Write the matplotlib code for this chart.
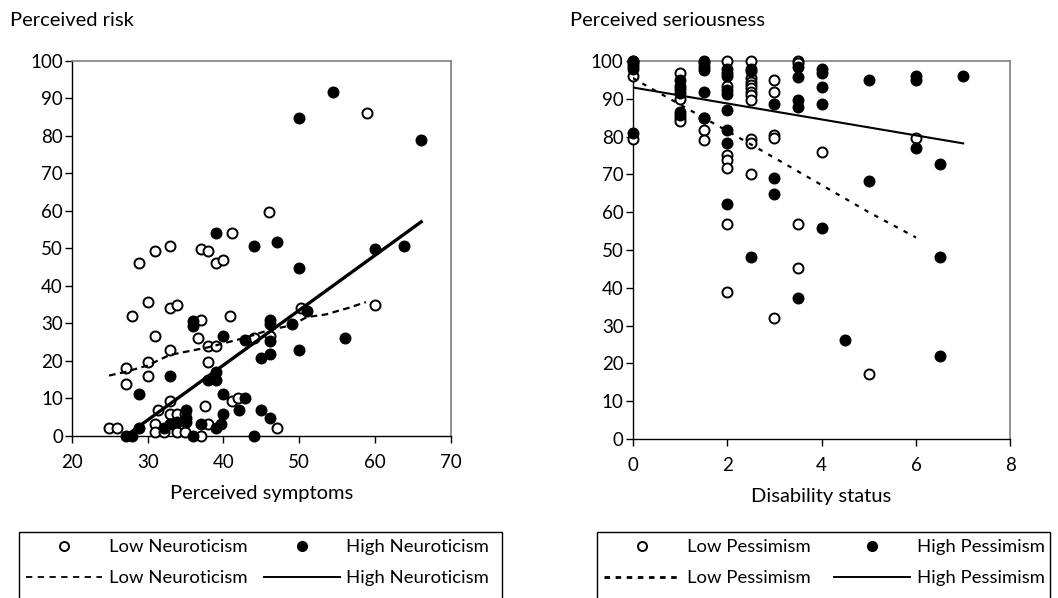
import matplotlib.pyplot as plt
from matplotlib.lines import Line2D
from matplotlib.patches import Rectangle

plt.rcParams['font.family'] = ['Lato', 'DejaVu Sans']

# ---- Left panel: perceived symptoms vs perceived risk ----
low_neuro_x = [24.9, 26.0, 31.0, 32.9, 37.1, 37.9, 28.9, 39.0, 40.0, 30.0, 32.9, 33.9,
               27.9, 37.1, 40.8, 31.0, 36.6, 32.9, 37.9, 39.0, 44.0, 46.1, 50.2, 60.0,
               27.1, 30.0, 27.1, 30.0, 37.9, 32.9, 31.3, 37.6, 41.1, 41.9, 32.9, 33.9,
               34.9, 31.0, 31.0, 32.1, 33.9, 34.9, 37.1, 37.9, 47.1, 59.0, 46.0, 41.1]
low_neuro_y = [2.2, 2.2, 49.2, 50.7, 49.8, 49.2, 46.0, 46.0, 47.0, 35.8, 34.2, 34.8,
               32.0, 30.9, 32.0, 26.7, 26.2, 23.0, 24.0, 24.0, 26.2, 26.7, 34.2, 34.8,
               18.2, 19.8, 13.9, 16.1, 19.8, 9.2, 7.0, 8.1, 9.2, 10.2, 5.9, 5.9,
               5.9, 3.3, 1.1, 1.1, 1.1, 1.1, 0.0, 3.3, 2.2, 86.0, 59.7, 54.0]

high_neuro_x = [44.0, 47.1, 39.0, 50.0, 54.5, 66.1, 60.0, 63.8, 50.0, 36.0, 36.0, 40.0,
                42.9, 46.1, 46.1, 46.1, 46.1, 45.0, 49.0, 51.0, 50.0, 56.1, 32.9, 28.9,
                37.9, 39.0, 39.0, 40.0, 42.9, 42.1, 40.0, 45.0, 46.1, 35.0, 35.0, 33.9,
                32.9, 32.1, 35.0, 37.1, 39.7, 39.0, 28.9, 27.1, 27.9, 36.0, 44.0]
high_neuro_y = [50.7, 51.8, 54.0, 84.9, 91.8, 78.9, 49.9, 50.7, 44.9, 29.4, 30.6, 26.7,
                25.7, 30.9, 29.9, 25.2, 21.9, 20.9, 29.9, 33.2, 23.0, 26.2, 16.1, 11.3,
                15.0, 15.0, 17.1, 11.3, 10.2, 7.0, 5.9, 7.0, 4.9, 7.0, 4.9, 3.8,
                3.3, 2.2, 3.8, 3.3, 3.3, 2.2, 2.2, 0.0, 0.0, 0.0, 0.0]

low_neuro_fit_x = [24.9, 27.1, 30.0, 32.9, 37.9, 42.9, 46.1, 49.0, 51.0, 53.5, 56.6, 58.8]
low_neuro_fit_y = [16.1, 17.1, 18.8, 21.6, 23.6, 26.2, 28.3, 29.5, 31.7, 32.4, 34.2, 35.7]
high_neuro_fit_x = [27.1, 66.1]
high_neuro_fit_y = [0.0, 57.1]

# ---- Right panel: disability status vs perceived seriousness ----
low_pess_x = [0, 0, 1, 1, 1, 1, 1, 1.5, 1.5, 1.5, 2, 2, 2, 2, 2, 2, 2,
              2.5, 2.5, 2.5, 2.5, 2.5, 2.5, 2.5, 2.5, 2.5, 2.5, 2.5,
              3, 3, 3, 3, 3, 3.5, 3.5, 3.5, 3.5, 4, 5, 6, 0]
low_pess_y = [95.9, 79.3, 96.7, 93.4, 89.9, 84.8, 84.0, 85.0, 81.7, 79.1, 100, 93.4, 75.1,
              73.8, 71.8, 56.9, 39.0,
              100, 95.4, 94.5, 93.7, 92.8, 91.9, 91.0, 89.7, 79.3, 78.2, 70.2,
              95.1, 91.9, 80.4, 79.5, 32.1, 100, 99.4, 56.9, 45.3, 76.0, 17.3, 79.7, 100]

high_pess_x = [0, 0, 0, 0, 0, 1, 1, 1, 1, 1, 1.5, 1.5, 1.5, 1.5, 1.5, 1.5,
               2, 2, 2, 2, 2, 2, 2, 2, 2, 2.5, 2.5, 2.5, 3, 3, 3,
               3.5, 3.5, 3.5, 3.5, 3.5, 4, 4, 4, 4, 4, 4.5, 5, 5,
               6, 6, 6, 6.5, 6.5, 6.5, 7]
high_pess_y = [100, 99.4, 98.7, 98.0, 80.9, 95.1, 92.5, 91.4, 86.6, 85.7, 100, 99.4, 98.5, 97.6, 91.9, 85.0,
               98.0, 96.9, 95.9, 92.3, 91.3, 87.0, 81.7, 78.2, 62.2, 98.0, 97.4, 48.1, 88.6, 69.1, 64.8,
               98.5, 95.7, 89.7, 87.9, 37.3, 98.0, 96.9, 93.0, 88.6, 55.9, 26.2, 95.1, 68.2,
               95.9, 95.1, 76.9, 72.8, 48.1, 22.0, 95.9]

low_pess_fit_x = [0, 1, 2, 3, 4, 5, 6]
low_pess_fit_y = [95.5, 88.5, 81.5, 74.4, 67.2, 60.0, 53.3]
high_pess_fit_x = [0, 7]
high_pess_fit_y = [93.0, 78.2]

W, H = 1058, 598
fig = plt.figure(figsize=(W / 100, H / 100), dpi=100)
ax1 = fig.add_axes([0.068, 0.271, 0.358, 0.627])
ax2 = fig.add_axes([0.598, 0.266, 0.357, 0.632])

mk = dict(s=52, linewidths=1.4, zorder=3, clip_on=False)


def style_axes(ax):
    for side in ['top', 'right']:
        ax.spines[side].set_color('#808080')
        ax.spines[side].set_linewidth(1.2)
    for side in ['left', 'bottom']:
        ax.spines[side].set_color('black')
        ax.spines[side].set_linewidth(1.0)
    ax.tick_params(direction='out', length=5, width=1, labelsize=13.5)
    ax.tick_params(axis='x', pad=8)
    ax.tick_params(axis='y', pad=1.5)
    ax.set_yticks(range(0, 101, 10))


# left
ax1.scatter(low_neuro_x, low_neuro_y, facecolors='white', edgecolors='black', **mk)
ax1.scatter(high_neuro_x, high_neuro_y, facecolors='black', edgecolors='black', **mk)
ax1.plot(low_neuro_fit_x, low_neuro_fit_y, color='black', lw=1.6, ls=(0, (3, 2)), zorder=4)
ax1.plot(high_neuro_fit_x, high_neuro_fit_y, color='black', lw=2.4, zorder=4)
ax1.set_xlim(20, 70)
ax1.set_ylim(0, 100)
ax1.set_xticks(range(20, 71, 10))
style_axes(ax1)
ax1.set_xlabel('Perceived symptoms', fontsize=14.5, labelpad=10)
fig.text(10 / W, 1 - 20 / H, 'Perceived risk', fontsize=14.5, va='center')

# right
ax2.scatter(low_pess_x, low_pess_y, facecolors='white', edgecolors='black', **mk)
ax2.scatter(high_pess_x, high_pess_y, facecolors='black', edgecolors='black', **mk)
ax2.plot(low_pess_fit_x, low_pess_fit_y, color='black', lw=1.6, ls=(0, (2, 3)), zorder=4)
ax2.plot(high_pess_fit_x, high_pess_fit_y, color='black', lw=1.5, zorder=4)
ax2.set_xlim(0, 8)
ax2.set_ylim(0, 100)
ax2.set_xticks(range(0, 9, 2))
style_axes(ax2)
ax2.set_xlabel('Disability status', fontsize=14.5, labelpad=10)
fig.text(570 / W, 1 - 20 / H, 'Perceived seriousness', fontsize=14.5, va='center')


def legend_box(x0, x1, low, high, dash, dash_lw, colsp):
    h = [Line2D([], [], ls='none', marker='o', mfc='white', mec='black', ms=6.5, mew=1.4),
         Line2D([], [], color='black', lw=dash_lw, ls=dash),
         Line2D([], [], ls='none', marker='o', mfc='black', mec='black', ms=7),
         Line2D([], [], color='black', lw=1.4)]
    lab = [low, low, high, high]
    fig.legend(h, lab, loc='upper left', bbox_to_anchor=(x0 / W, 1 - 532 / H), ncol=2,
               fontsize=13.3, frameon=False,
               handlelength=4.1, handletextpad=0.35, columnspacing=colsp,
               labelspacing=0.8, borderpad=0.4, borderaxespad=0)
    # box runs off the bottom of the image, as in the original
    fig.patches.append(Rectangle((x0 / W, -0.1), (x1 - x0) / W, 0.1 + 1 - 532 / H,
                                 transform=fig.transFigure, fill=False,
                                 edgecolor='black', lw=1.0))


legend_box(19, 502, 'Low Neuroticism', 'High Neuroticism', (0, (3.5, 3)), 1.3, 0.9)
legend_box(597, 1050, 'Low Pessimism', 'High Pessimism', (0, (2, 2)), 2.0, 1.3)

fig.savefig('out.png', dpi=100)
